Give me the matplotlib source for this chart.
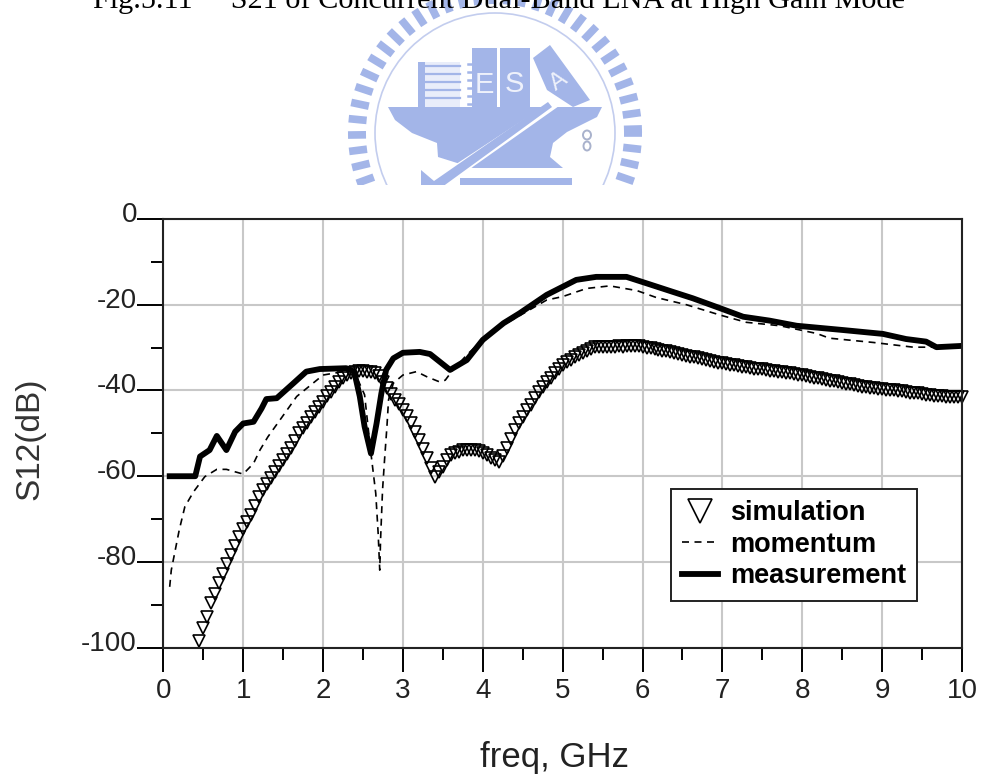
import matplotlib

matplotlib.use("Agg")
import numpy as np
from matplotlib import pyplot as plt
from matplotlib.patches import Ellipse, Polygon, Rectangle
from matplotlib.transforms import ScaledTranslation

W, H = 983, 776

# simulation has one marker every 0.05 GHz from 0.45 to 10
sim_x = [0.45 + 0.05 * i for i in range(192)]
sim_y = [-98.4, -95.4, -92.8, -89.6, -87.4, -85, -82.7, -80.4, -78.3, -76.3, -74.2, -72.2, -70.6, -69, -66.9, -64.8,
         -63.2, -61.7, -60.3, -59, -57.6, -56.2, -54.8, -53.5, -51.7, -50, -48.8, -47.7, -46.3, -45, -43.8, -42.6,
         -41.4, -40.3, -39.1, -38, -37.2, -36.4, -36, -35.6, -35.5, -35.5, -35.6, -35.8, -36, -36.6, -38, -39.5,
         -40.8, -42.2, -43.2, -44.5, -46, -47.7, -49.6, -51.6, -53.7, -55.8, -58, -60.1, -59, -57.8, -56.3, -55,
         -54.6, -54.3, -54, -53.8, -53.9, -54, -54.2, -54.5, -55.1, -55.8, -56.3, -56.6, -55.2, -53.5, -51.3, -49.2,
         -47.6, -46.1, -44.6, -43.3, -41.8, -40.3, -39.1, -38, -37, -36, -35, -34, -33.4, -32.8, -32.2, -31.7,
         -31.2, -30.8, -30.3, -29.9, -29.9, -29.9, -29.8, -29.9, -29.8, -29.7, -29.8, -29.6, -29.7, -29.6, -29.7,
         -29.8, -30, -30.2, -30.3, -30.5, -30.7, -30.9, -31.1, -31.3, -31.5, -31.7, -31.9, -32.1, -32.3, -32.5,
         -32.7, -32.9, -33.1, -33.3, -33.5, -33.6, -33.8, -34, -34.1, -34.3, -34.5, -34.6, -34.8, -34.9, -35,
         -35.1, -35.3, -35.4, -35.5, -35.6, -35.8, -35.9, -36, -36.2, -36.3, -36.5, -36.6, -36.8, -37, -37.2, -37.3,
         -37.5, -37.7, -37.9, -38.1, -38.3, -38.4, -38.6, -38.8, -38.9, -39.1, -39.2, -39.4, -39.5, -39.6, -39.7,
         -39.8, -39.9, -40, -40.1, -40.2, -40.3, -40.5, -40.6, -40.7, -40.8, -41, -41.1, -41.2, -41.4, -41.4, -41.5,
         -41.5, -41.6, -41.6, -41.6]

mom_x = [0.08, 0.1, 0.15, 0.2, 0.27, 0.38, 0.52, 0.67, 0.79, 1.0, 1.13, 1.21, 1.31, 1.46, 1.67, 2.0, 2.25, 2.42,
         2.52, 2.6, 2.66, 2.69, 2.71, 2.72, 2.745, 2.77, 2.8, 2.82, 2.88, 3.0, 3.17, 3.3, 3.46, 3.53, 3.61, 3.8,
         4.0, 4.26, 4.8, 5.0, 5.3, 5.59, 5.93, 6.17, 6.55, 6.97, 7.3, 7.72, 8.18, 8.34, 8.89, 9.39, 9.68, 10.0]
mom_y = [-85.8, -81.9, -77.2, -72.5, -67.1, -63.6, -60.1, -58.4, -58.4, -59.5, -57, -53.9, -50.8, -46.9, -41.4,
         -36.4, -35.6, -36.8, -41, -54.7, -64, -73.3, -81.9, -74.9, -63.2, -56.2, -48.4, -42.2, -38.3, -36.4,
         -35.6, -36.8, -38, -37.6, -35.6, -31.7, -28.2, -24.7, -18.9, -18.1, -16.2, -15.6, -16.7, -18.3, -20,
         -22.4, -24.1, -24.9, -26.7, -27.8, -28.8, -29.9, -29.9, -29.9]

meas_x = [0.08, 0.4, 0.46, 0.58, 0.67, 0.79, 0.9, 1.0, 1.13, 1.23, 1.29, 1.42, 1.63, 1.79, 1.96, 2.29, 2.39, 2.46,
          2.52, 2.6, 2.67, 2.73, 2.79, 2.88, 3.0, 3.21, 3.34, 3.59, 3.8, 4.0, 4.26, 4.46, 4.8, 5.17, 5.42, 5.8,
          6.05, 6.38, 6.63, 6.97, 7.26, 7.59, 7.93, 8.51, 9.01, 9.3, 9.55, 9.68, 10.0]
meas_y = [-60, -60, -55.4, -53.9, -50.6, -53.9, -49.6, -47.7, -47.3, -44.2, -42, -41.8, -38.3, -35.6, -35, -34.8,
          -35.6, -41.4, -48.4, -54.7, -47.7, -40.7, -35.2, -32.5, -31.2, -31, -31.5, -35.2, -32.9, -28.2, -24.3,
          -22, -17.7, -14.2, -13.5, -13.5, -15, -17, -18.5, -20.8, -22.8, -23.7, -24.9, -25.9, -26.8, -28, -28.6,
          -29.9, -29.6]

x_ticks = [0, 1, 2, 3, 4, 5, 6, 7, 8, 9, 10]
y_ticks = [0, -20, -40, -60, -80, -100]

LOGO = "#a3b5e8"


def draw_logo(fig):
    # watermark behind the chart, drawn in image pixels
    ax = fig.add_axes([0, 0, 1, 1], zorder=0)
    ax.set_xlim(0, W)
    ax.set_ylim(H, 0)
    ax.axis("off")
    cx, cy = 495, 133
    for ang in np.arange(0, 360, 6.4):
        a = np.radians(ang)
        ax.plot([cx + 129 * np.cos(a), cx + 147 * np.cos(a)], [cy + 129 * np.sin(a), cy + 147 * np.sin(a)],
                color=LOGO, lw=5.5, solid_capstyle="butt")
    ax.add_patch(Ellipse((cx, cy), 240, 240, fc="white", ec="#c3cdee", lw=1.2))
    # books
    ax.add_patch(Rectangle((418, 62), 42, 45, fc="#e9edfa", ec="none"))
    ax.add_patch(Rectangle((418, 62), 7, 45, fc=LOGO, ec="none"))
    for yy in [66, 74, 82, 90, 98]:
        ax.plot([425, 460], [yy, yy], color=LOGO, lw=1.6)
    for yy in [64, 72, 80, 88, 96, 104]:
        ax.plot([468, 471], [yy, yy], color=LOGO, lw=1.8)
    ax.add_patch(Rectangle((472, 48), 25, 59, fc=LOGO, ec="none"))
    ax.add_patch(Rectangle((500, 48), 30, 59, fc=LOGO, ec="none"))
    ax.add_patch(Polygon([[533, 58], [550, 45], [590, 100], [573, 107], [547, 90]], fc=LOGO, ec="none"))
    ax.text(484, 85, "E", color="#eef1fb", fontsize=21, ha="center", va="center", family="Liberation Sans")
    ax.text(514, 84, "S", color="#eef1fb", fontsize=21, ha="center", va="center", family="Liberation Sans")
    ax.text(559, 82, "A", color="#eef1fb", fontsize=17, ha="center", va="center", rotation=35,
            family="Liberation Sans")
    # ship hull
    ax.add_patch(Polygon([[388, 107], [602, 107], [597, 117], [567, 132], [553, 143], [550, 157], [563, 168],
                          [473, 168], [438, 157], [437, 143], [412, 133], [395, 120]], fc=LOGO, ec="none"))
    ax.add_patch(Ellipse((587, 135), 8, 9, fc="white", ec="#a9b2cc", lw=1.4))
    ax.add_patch(Ellipse((587, 146), 7, 9, fc="white", ec="#a9b2cc", lw=1.4))
    # check mark
    ax.add_patch(Polygon([[552, 101], [559, 106], [440, 190], [421, 168], [426, 164], [438, 176]],
                         fc="white", ec="none"))
    ax.add_patch(Polygon([[421, 170], [434, 181], [548, 102], [552, 107], [438, 190], [421, 185]],
                         fc=LOGO, ec="none"))
    ax.add_patch(Rectangle((460, 178), 112, 10, fc=LOGO, ec="none"))
    ax.add_patch(Rectangle((0, 185), W, H - 185, fc="white", ec="none", zorder=5))


def main():
    plt.rcParams["font.family"] = ["Liberation Sans"]
    plt.rcParams["axes.unicode_minus"] = False

    fig = plt.figure(figsize=(W / 100, H / 100), dpi=100)
    draw_logo(fig)

    fig.text(93 / W, 1 - 8 / H, "Fig.5.11     S21 of Concurrent Dual-Band LNA at High Gain Mode", ha="left",
             va="baseline", fontsize=21.75, family="Liberation Serif", color="black")

    ax = fig.add_axes([163.3 / W, 1 - 647.7 / H, 798.7 / W, 428.7 / H], zorder=2)
    ax.patch.set_alpha(0)
    ax.set_xlim(0, 10)
    ax.set_ylim(-100, 0)

    ax.plot(sim_x, sim_y, ls="none", marker="v", ms=8.6, mfc="none", mec="black", mew=1.2, clip_on=False,
            label="simulation")
    ax.plot(mom_x, mom_y, color="black", ls=(0, (4.2, 3.3)), lw=1.2, label="momentum")
    ax.plot(meas_x, meas_y, color="black", lw=4.2, label="measurement")

    ax.set_xticks(x_ticks)
    ax.set_yticks(y_ticks)
    ax.set_xticks(np.arange(0.5, 10, 1), minor=True)
    ax.set_yticks(np.arange(-90, 0, 20), minor=True)
    ax.grid(True, which="major", color="#c8c8c8", lw=1.5)
    ax.set_axisbelow(True)
    ax.tick_params(axis="x", which="major", length=17.5, width=1.4, labelsize=20, pad=4, labelcolor="#222222")
    ax.tick_params(axis="y", which="major", length=19, width=1.4, labelsize=20, pad=0, labelcolor="#222222")
    ax.tick_params(which="minor", length=8.6, width=1.4)
    for s in ax.spines.values():
        s.set_linewidth(1.5)
        s.set_color("#222222")

    # the y labels sit a little above their ticks
    shift = ScaledTranslation(0, 0.07, fig.dpi_scale_trans)
    for label in ax.get_yticklabels():
        label.set_transform(label.get_transform() + shift)

    ax.set_xlabel("freq, GHz", fontsize=25, color="#222222", ha="left", va="baseline")
    ax.xaxis.set_label_coords((480 - 163.3) / 798.7, -(767 - 647.7) / 428.7)
    ax.set_ylabel("S12(dB)", fontsize=24, color="#333333", va="center")
    ax.yaxis.set_label_coords((30 - 163.3) / 798.7, 1 - (439 - 219) / 428.7)

    leg = ax.legend(loc="upper left", bbox_to_anchor=((671 - 163.3) / 798.7, 1 - (489 - 219) / 428.7),
                    prop={"weight": "bold", "size": 19.5}, frameon=True, fancybox=False, edgecolor="#222222",
                    framealpha=1, borderaxespad=0, borderpad=0.42, labelspacing=0.2, handlelength=1.3,
                    handletextpad=0.45, markerscale=2)
    leg.get_frame().set_linewidth(1.4)

    fig.savefig("out.png", dpi=100)


if __name__ == "__main__":
    main()
